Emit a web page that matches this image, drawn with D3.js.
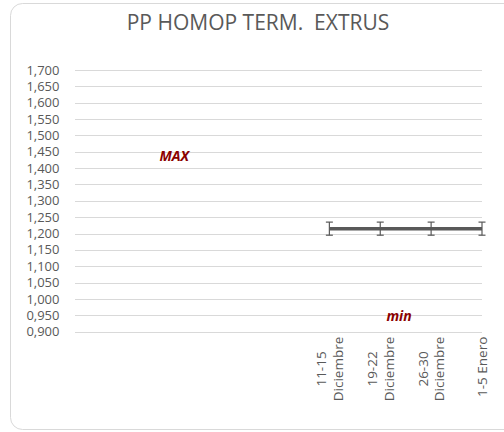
<!DOCTYPE html>
<html>
<head>
<meta charset="utf-8">
<script src="https://cdn.jsdelivr.net/npm/d3@7"></script>
<style>
  body { margin: 0; background: #fff; }
  svg text { font-family: "Open Sans", "Liberation Sans", sans-serif; white-space: pre; }
</style>
</head>
<body>
<div id="chart"></div>
<script>
// chart data
const categories = ["", "", "", "", "", "11-15\nDiciembre", "19-22\nDiciembre", "26-30\nDiciembre", "1-5 Enero"];
const values = [null, null, null, null, null, 1.215, 1.215, 1.215, 1.215];
const errors = [null, null, null, null, null, 0.02, 0.02, 0.02, 0.02];
const yTicks = [0.9, 0.95, 1.0, 1.05, 1.1, 1.15, 1.2, 1.25, 1.3, 1.35, 1.4, 1.45, 1.5, 1.55, 1.6, 1.65, 1.7];
const annotations = [
  { text: "MAX", index: 1.95, value: 1.437 },
  { text: "min", index: 6.37, value: 0.947 }
];

const W = 504, H = 432;
const margin = { top: 70, right: 22, bottom: 100, left: 75 };
const plotW = 482 - margin.left, plotH = 331.7 - margin.top;

const svg = d3.select("#chart").append("svg")
    .attr("width", W)
    .attr("height", H);

// chart border
svg.append("rect")
    .attr("x", 10.5).attr("y", 3.5)
    .attr("width", 510).attr("height", 426)
    .attr("rx", 12)
    .attr("fill", "#fff")
    .attr("stroke", "#d9d9d9");

svg.append("text")
    .attr("x", 258).attr("y", 30)
    .attr("text-anchor", "middle")
    .attr("font-size", 21)
    .attr("fill", "#595959")
    .text("PP HOMOP TERM.  EXTRUS");

const g = svg.append("g")
    .attr("transform", `translate(${margin.left},${margin.top})`);

const x = d3.scalePoint()
    .domain(d3.range(categories.length))
    .range([0, plotW]);

const xi = d3.scaleLinear()
    .domain([0, categories.length - 1])
    .range([0, plotW]);

const y = d3.scaleLinear()
    .domain([0.9, 1.7])
    .range([plotH, 0]);

// gridlines
g.append("g")
  .selectAll("line")
  .data(yTicks)
  .enter().append("line")
    .attr("x1", 0).attr("x2", plotW)
    .attr("y1", d => Math.round(y(d)) + 0.5)
    .attr("y2", d => Math.round(y(d)) + 0.5)
    .attr("stroke", "#d9d9d9");

// y axis labels
const fmt = d => d3.format(".3f")(d).replace(/^(\d)\./, "$1,");
g.append("g")
  .selectAll("text")
  .data(yTicks)
  .enter().append("text")
    .attr("x", -15.5)
    .attr("y", d => y(d))
    .attr("dy", "0.35em")
    .attr("text-anchor", "end")
    .attr("font-size", 13)
    .attr("fill", "#595959")
    .text(fmt);

// x labels (rotated, multi-line)
const xl = g.append("g")
    .attr("transform", `translate(0,${plotH})`);

categories.forEach((c, i) => {
  if (!c) return;
  const lines = c.split("\n");
  const t = xl.append("text")
      .attr("font-size", 13.5)
      .attr("fill", "#595959")
      .attr("text-anchor", "middle");
  lines.forEach((ln, k) => {
    t.append("tspan")
      .attr("x", 0)
      .attr("dy", k === 0 ? 0 : "1.25em")
      .text(ln);
  });
  const bb = t.node().getBBox();
  const lh = bb.height / lines.length;
  const cy = 5 + bb.width / 2;
  const off = -(lines.length - 1) * lh / 2 + 0.35 * lh - 1;
  t.attr("transform", `translate(${x(i) + off},${cy}) rotate(-90)`);
});

// series line
const line = d3.line()
    .defined(d => d != null)
    .x((d, i) => x(i))
    .y(d => y(d));

g.append("path")
    .datum(values)
    .attr("fill", "none")
    .attr("stroke", "#595959")
    .attr("stroke-width", 3.5)
    .attr("d", line);

// error bars
const eb = g.append("g").attr("stroke", "#595959").attr("stroke-width", 1.2);
values.forEach((v, i) => {
  if (v == null) return;
  const e = errors[i];
  const cx = x(i);
  eb.append("line").attr("x1", cx).attr("x2", cx).attr("y1", y(v + e)).attr("y2", y(v - e));
  eb.append("line").attr("x1", cx - 3.5).attr("x2", cx + 3.5).attr("y1", y(v + e)).attr("y2", y(v + e));
  eb.append("line").attr("x1", cx - 3.5).attr("x2", cx + 3.5).attr("y1", y(v - e)).attr("y2", y(v - e));
});

// MAX / min labels
g.append("g")
  .selectAll("text")
  .data(annotations)
  .enter().append("text")
    .attr("x", d => xi(d.index))
    .attr("y", d => y(d.value))
    .attr("dy", "0.35em")
    .attr("text-anchor", "middle")
    .attr("font-size", 14)
    .attr("font-weight", "bold")
    .attr("font-style", "italic")
    .attr("fill", "#8b0000")
    .text(d => d.text);
</script>
</body>
</html>
